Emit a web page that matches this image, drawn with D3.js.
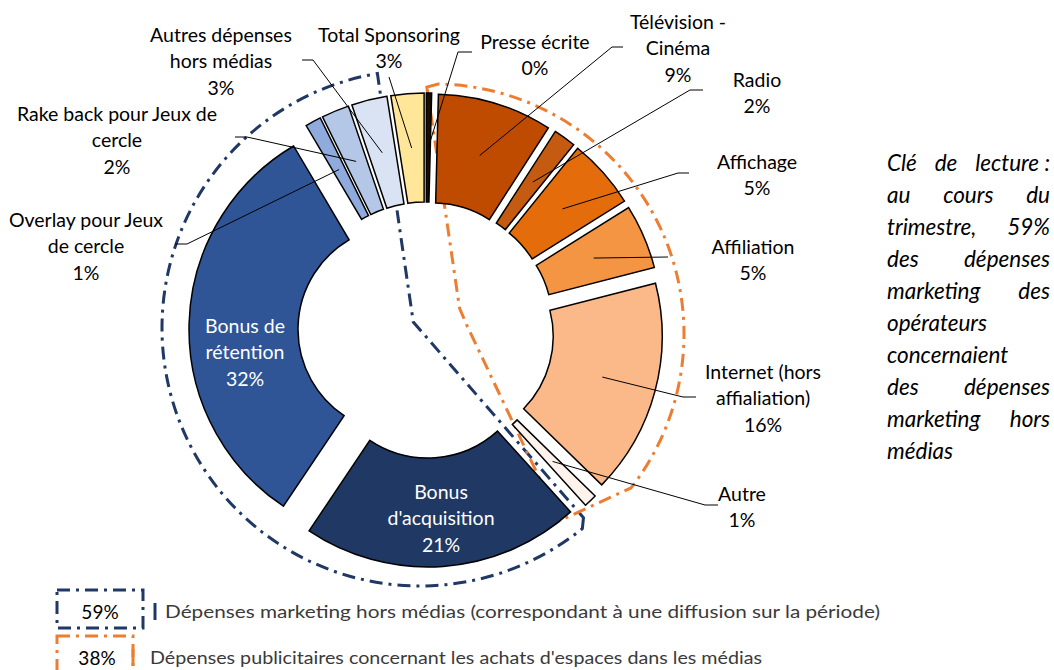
<!DOCTYPE html>
<html>
<head>
<meta charset="utf-8">
<script src="https://cdn.jsdelivr.net/npm/d3@7"></script>
<style>
  body { margin: 0; background: #fff; }
  svg text { font-family: Lato, "Open Sans", sans-serif; }
</style>
</head>
<body>
<script>
// data (share of marketing spend, %)
const categories = ["Presse écrite", "Télévision - Cinéma", "Radio", "Affichage", "Affiliation",
  "Internet (hors affialiation)", "Autre", "Bonus d'acquisition", "Bonus de rétention",
  "Overlay pour Jeux de cercle", "Rake back pour Jeux de cercle", "Autres dépenses hors médias", "Total Sponsoring"];
const shares = [0.4, 8.7, 1.7, 5.3, 4.9, 16.3, 1.0, 21.1, 32.1, 1.2, 2.1, 2.7, 2.5];
const labelLines = [["Presse écrite"], ["Télévision -", "Cinéma"], ["Radio"], ["Affichage"], ["Affiliation"],
  ["Internet (hors", "affialiation)"], ["Autre"], ["Bonus", "d'acquisition"], ["Bonus de", "rétention"],
  ["Overlay pour Jeux", "de cercle"], ["Rake back pour Jeux de", "cercle"], ["Autres dépenses", "hors médias"], ["Total Sponsoring"]];
const insideLabel = [false, false, false, false, false, false, false, true, true, false, false, false, false];
const mediaIdx = [0, 1, 2, 3, 4, 5, 6];
const horsMediaIdx = [7, 8, 9, 10, 11];
const legendNames = ["Dépenses marketing hors médias (correspondant à une diffusion sur la période)",
  "Dépenses publicitaires concernant les achats d'espaces dans les médias"];
const noteLines = [["Clé", "de", "lecture :"], ["au", "cours", "du"], ["trimestre,", "59%"], ["des", "dépenses"],
  ["marketing", "des"], ["opérateurs"], ["concernaient"], ["des", "dépenses"], ["marketing", "hors"], ["médias"]];

const colors = ["#1c0d00", "#bf4b00", "#c55a11", "#e46c0a", "#f39543", "#fbb98a", "#fdf3ec",
  "#203864", "#2f5597", "#8faadc", "#b4c7e7", "#dae3f3", "#ffe699"];

// label placement: text centre x, first line y, elbow of leader line and end of its short horizontal part
const labelPos = [
  {x: 535, y: 41, ex: 458, ey: 52, hx: 472},
  {x: 678, y: 21, ex: 612, ey: 47, hx: 623},
  {x: 757, y: 79, ex: 690, ey: 90, hx: 703},
  {x: 757, y: 161, ex: 678, ey: 173, hx: 689},
  {x: 753, y: 246, ex: 668, ey: 257, hx: 668},
  {x: 763, y: 371, ex: 683, ey: 397, hx: 696},
  {x: 742, y: 493, ex: 705, ey: 505, hx: 718},
  {x: 441, y: 491},
  {x: 245, y: 325},
  {x: 86, y: 219, ex: 187, ey: 244, hx: 175},
  {x: 117, y: 113, ex: 247, ey: 137, hx: 235},
  {x: 221, y: 34, ex: 313, ey: 60, hx: 302},
  {x: 389, y: 34, ex: 389, ey: 77, hx: 389}
];

const W = 1054, H = 670;
const cx = 426, cy = 330;
const rIn = 104, rOut = 213, explode = 24, lineH = 26.5;

const svg = d3.select("body").append("svg")
  .attr("width", W)
  .attr("height", H);

const pie = d3.pie().sort(null).value(d => d)
  .startAngle(0).endAngle(2 * Math.PI);
const arcs = pie(shares);
const arc = d3.arc().innerRadius(rIn).outerRadius(rOut);

const shift = a => {
  const m = (a.startAngle + a.endAngle) / 2;
  return [explode * Math.sin(m), -explode * Math.cos(m)];
};

const chart = svg.append("g").attr("transform", "translate(" + cx + "," + cy + ")");

// group outlines (dash-dot)
const polar = (deg, r, ox, oy) => {
  const a = deg * Math.PI / 180;
  return [(ox || 0) + r * Math.sin(a), (oy || 0) - r * Math.cos(a)];
};
const rad = deg => (deg - 90) * Math.PI / 180;

const bluePath = d3.path();
let p = polar(140, 245);
bluePath.moveTo(p[0], p[1]);
bluePath.arc(-6, -2, 258, rad(141), rad(350.5));
p = polar(345, 98); bluePath.lineTo(p[0], p[1]);
p = polar(302, 15); bluePath.lineTo(p[0], p[1]);
bluePath.closePath();

const orangePath = d3.path();
p = polar(0.2, 243);
orangePath.moveTo(p[0], p[1]);
orangePath.arc(8, 4, 250, rad(1), rad(128));
p = polar(145, 233); orangePath.lineTo(p[0], p[1]);
p = polar(83, 41); orangePath.lineTo(p[0], p[1]);
p = polar(57, 40); orangePath.lineTo(p[0], p[1]);
p = polar(13, 100); orangePath.lineTo(p[0], p[1]);
orangePath.closePath();

const dashDot = "13 6 3 6";

chart.append("path")
  .attr("d", bluePath.toString())
  .attr("fill", "none")
  .attr("stroke", "#203864")
  .attr("stroke-width", 3)
  .attr("stroke-dasharray", dashDot);

chart.append("path")
  .attr("d", orangePath.toString())
  .attr("fill", "none")
  .attr("stroke", "#ed7d31")
  .attr("stroke-width", 3)
  .attr("stroke-dasharray", dashDot);

// slices
chart.selectAll("path.slice")
  .data(arcs)
  .enter()
  .append("path")
  .attr("class", "slice")
  .attr("d", arc)
  .attr("transform", d => "translate(" + shift(d).join(",") + ")")
  .attr("fill", (d, i) => colors[i])
  .attr("stroke", "#000")
  .attr("stroke-width", 1.5)
  .attr("stroke-linejoin", "miter");

// leader lines
chart.selectAll("polyline.leader")
  .data(arcs.filter((d, i) => !insideLabel[i]))
  .enter()
  .append("polyline")
  .attr("class", "leader")
  .attr("fill", "none")
  .attr("stroke", "#000")
  .attr("stroke-width", 1)
  .attr("points", d => {
    const c = arc.centroid(d), s = shift(d), lp = labelPos[d.index];
    return [[c[0] + s[0], c[1] + s[1]], [lp.ex - cx, lp.ey - cy], [lp.hx - cx, lp.ey - cy]].join(" ");
  });

// labels
const fmt = v => Math.round(v) + "%";
arcs.forEach((d, i) => {
  const lines = labelLines[i].concat([fmt(shares[i])]);
  const x = labelPos[i].x, y = labelPos[i].y;
  const t = svg.append("text")
    .attr("text-anchor", "middle")
    .attr("font-size", 19.5)
    .attr("fill", insideLabel[i] ? "#fff" : "#000");
  lines.forEach((l, k) => {
    t.append("tspan").attr("x", x).attr("y", y + k * lineH)
      .attr("dominant-baseline", "central").text(l);
  });
});

// reading note (justified italic text)
const noteX0 = 887, noteX1 = 1050;
noteLines.forEach((words, li) => {
  const y = 162 + li * 32;
  const justify = li < noteLines.length - 1 && words.length > 1;
  const nodes = words.map(w => svg.append("text")
    .attr("font-size", 22.5)
    .attr("font-style", "italic")
    .attr("fill", "#000")
    .attr("dominant-baseline", "central")
    .attr("y", y)
    .text(w));
  if (!justify) {
    let x = noteX0;
    nodes.forEach(n => { n.attr("x", x); x += n.node().getComputedTextLength() + 6; });
  } else {
    const widths = nodes.map(n => n.node().getComputedTextLength());
    const gap = (noteX1 - noteX0 - d3.sum(widths)) / (words.length - 1);
    let x = noteX0;
    nodes.forEach((n, k) => { n.attr("x", x); x += widths[k] + gap; });
  }
});

// legend
const legendColors = ["#203864", "#ed7d31"];
const legendShares = [d3.sum(horsMediaIdx, i => shares[i]), d3.sum(mediaIdx, i => shares[i])];
const legendRows = [
  {y: 590, h: 38, w: 86, bar: 155, tx: 165, tw: 715},
  {y: 636, h: 40, w: 76, bar: 133, tx: 150, tw: 612}
];
legendRows.forEach((r, i) => {
  svg.append("rect")
    .attr("x", 57).attr("y", r.y)
    .attr("width", r.w).attr("height", r.h)
    .attr("fill", "none")
    .attr("stroke", legendColors[i])
    .attr("stroke-width", 3)
    .attr("stroke-dasharray", dashDot);
  svg.append("line")
    .attr("x1", r.bar).attr("x2", r.bar)
    .attr("y1", r.y + 13).attr("y2", r.y + 30)
    .attr("stroke", legendColors[i])
    .attr("stroke-width", 3);
  svg.append("text")
    .attr("x", 57 + (i === 0 ? 43 : 40)).attr("y", r.y + 21)
    .attr("text-anchor", "middle")
    .attr("dominant-baseline", "central")
    .attr("font-size", 19)
    .attr("fill", "#000")
    .text(fmt(legendShares[i]));
  svg.append("text")
    .attr("x", r.tx).attr("y", r.y + 21)
    .attr("dominant-baseline", "central")
    .attr("font-size", 18)
    .attr("fill", "#3a3a3a")
    .attr("textLength", r.tw)
    .attr("lengthAdjust", "spacingAndGlyphs")
    .text(legendNames[i]);
});
</script>
</body>
</html>
